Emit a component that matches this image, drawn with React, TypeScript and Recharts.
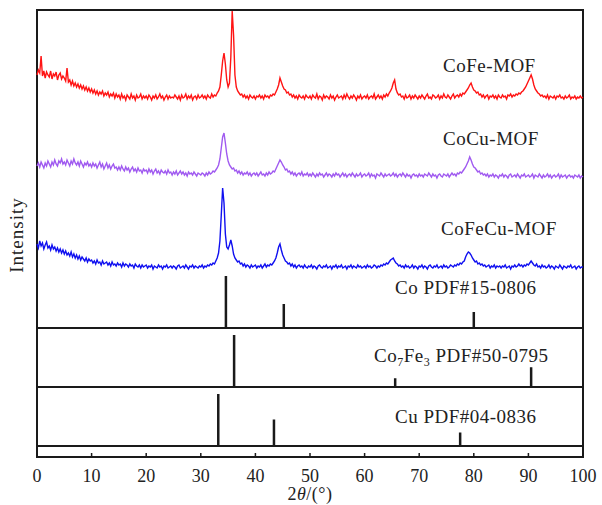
import { ComposedChart, Line, XAxis, YAxis, ReferenceLine, ReferenceArea } from "recharts";

// 2θ sampling grid, 0.25° steps
const twoTheta = Array.from({ length: 401 }, (_, i) => i * 0.25);

// intensity above each pattern's own baseline (arbitrary units)
const cofeMof = [
  22, 27, 24, 41, 21, 26, 19, 25, 22, 20, 26, 18, 23, 21, 25, 17, 22, 24, 18, 21,
  19, 16, 29, 15, 17, 12, 16, 11, 14, 10, 13, 9, 12, 8, 11, 7, 10, 6, 9, 5,
  8, 4, 7, 3, 6, 2, 5, 3, 6, 1, 4, 2, 5, 0, 3, 1, 4, -1, 3, 0,
  2, -2, 3, -1, 1, -3, 2, 0, -2, 3, -1, 1, -3, 2, -1, 0, 3, -2, 1, -1,
  1, -2, 2, 0, -3, 1, -1, 2, -2, 0, 3, -1, 1, -3, 0, 2, -2, 1, -1, 0,
  -1, 2, 0, -2, 1, -3, 2, -1, 0, 3, -2, 1, -1, 2, -3, 0, 1, -2, 2, -1,
  0, 2, -1, 1, -2, 2, 0, -1, 3, 0, 2, 1, 4, 6, 10, 22, 36, 44, 33, 17,
  10, 14, 40, 86, 62, 22, 10, 6, 4, 2, 3, 0, 2, -1, 1, -2, 2, 0, -1, 1,
  -2, 1, 0, 2, -1, 1, -2, 2, 0, 1, -1, 2, 1, 3, 2, 5, 8, 12, 19, 15,
  11, 8, 7, 4, 5, 2, 3, 0, 2, -1, 1, -2, 2, 0, -1, 1, -2, 2, 0, -1,
  1, -2, 2, 0, -1, 3, -2, 1, 0, -3, 2, -1, 1, 0, -2, 2, -1, 1, -3, 0,
  2, -1, 0, 1, -2, 2, -1, 3, 0, -2, 1, -1, 2, 0, -3, 1, -1, 2, -2, 0,
  1, -1, 2, -2, 0, 1, -1, 3, -2, 0, 2, -1, 1, -2, 2, 0, 3, 1, 4, 6,
  9, 14, 17, 8, 4, 2, 3, 0, 1, -2, 2, -1, 0, 2, -2, 1, -1, 2, 0, -2,
  1, -1, 2, 0, -2, 1, 3, -1, 0, -2, 2, 1, -1, 0, 2, -2, 1, -1, 3, 0,
  -1, 2, 0, -2, 1, 3, -1, 1, 2, 0, 3, 1, 4, 3, 5, 7, 9, 12, 14, 10,
  7, 6, 4, 5, 2, 3, 0, 2, -1, 1, 2, -2, 1, 0, 2, -1, 1, -2, 2, 0,
  -1, 2, 0, 1, -2, 2, 1, 3, 0, 2, 1, 3, 2, 4, 3, 5, 6, 8, 10, 13,
  16, 19, 22, 18, 12, 8, 6, 4, 3, 1, 2, 0, 1, -1, 2, -2, 1, 0, -1, 1,
  -2, 1, 0, 2, -1, 0, -2, 1, -1, 0, 2, -2, 0, -1, 1, -2, 0, -1, 1, -1,
  0,
];

const cocuMof = [
  10, 13, 9, 14, 11, 8, 13, 10, 15, 12, 9, 14, 11, 16, 12, 10, 15, 13, 17, 12,
  14, 11, 16, 13, 10, 15, 12, 17, 13, 11, 14, 10, 15, 12, 9, 13, 11, 14, 10, 12,
  9, 13, 10, 12, 8, 11, 14, 9, 12, 7, 10, 13, 8, 11, 7, 10, 12, 8, 9, 6,
  9, 6, 10, 7, 5, 9, 6, 8, 4, 7, 9, 5, 7, 4, 8, 5, 6, 3, 7, 5,
  6, 3, 7, 4, 6, 2, 5, 7, 3, 5, 2, 6, 4, 3, 5, 2, 6, 3, 4, 1,
  4, 2, 5, 1, 3, 5, 2, 4, 1, 3, 0, 4, 2, 3, 1, 4, 2, 0, 3, 2,
  1, 3, 2, 0, 3, 1, 4, 2, 3, 5, 4, 6, 8, 11, 17, 28, 39, 43, 33, 22,
  15, 11, 9, 7, 8, 5, 6, 3, 5, 2, 4, 1, 3, 2, 4, 1, 3, 0, 2, 3,
  1, 3, 0, 2, 4, 1, 2, 0, 3, 1, 4, 2, 3, 5, 4, 7, 10, 13, 16, 14,
  11, 9, 6, 7, 4, 5, 2, 4, 1, 3, 0, 2, 3, 1, 4, 0, 2, 1, 3, 0,
  2, 0, 3, 1, -1, 2, 0, 3, 1, 2, -1, 1, 3, 0, 2, 1, -1, 2, 0, 3,
  1, 2, -1, 1, 3, 0, 2, -1, 1, 2, 0, 3, 1, -1, 2, 0, 1, 3, -1, 1,
  2, 0, 1, 3, -1, 2, 0, 1, -2, 2, 1, 0, 3, 1, -1, 2, 0, 1, 2, 0,
  1, 3, 0, 2, -1, 1, 2, 0, 3, 1, -1, 2, 0, 1, -2, 1, 2, 0, 1, -1,
  2, 0, 1, -1, 2, 1, 0, 3, 1, -1, 2, 0, 1, -2, 1, 2, 0, -1, 2, 1,
  0, 2, -1, 1, 3, 1, 2, 0, 3, 2, 4, 3, 5, 7, 9, 12, 15, 19, 16, 12,
  9, 8, 6, 4, 5, 2, 3, 1, 2, 0, 2, -1, 1, 0, 2, -1, 1, 0, -2, 1,
  0, 2, -1, 1, 0, -2, 1, 2, -1, 0, 1, -1, 2, 0, -2, 1, 0, 2, -1, 0,
  1, -1, 0, 2, -2, 1, 0, -1, 2, 0, -2, 1, -1, 0, 2, -1, 1, -2, 0, 1,
  -1, 0, 2, -2, 1, -1, 0, 1, -2, 0, 1, -1, 0, -2, 1, 0, -1, 1, -2, 0,
  -1,
];

const cofecuMof = [
  23, 19, 26, 21, 24, 18, 22, 25, 19, 21, 17, 22, 18, 20, 16, 19, 15, 18, 14, 17,
  13, 16, 12, 14, 11, 15, 10, 13, 9, 12, 8, 11, 7, 10, 8, 6, 9, 5, 8, 6,
  7, 4, 6, 3, 7, 4, 5, 2, 6, 3, 4, 5, 2, 4, 1, 5, 2, 3, 1, 4,
  2, 3, 0, 4, 1, 3, 2, 0, 3, 1, 2, -1, 3, 1, 0, 2, -1, 2, 0, 1,
  2, -1, 1, 0, 2, -2, 1, 0, -1, 2, 0, 1, -2, 1, 0, 2, -1, 0, 1, -1,
  1, 0, -2, 1, 2, -1, 0, 1, -1, 2, 0, -2, 1, 0, 2, -1, 1, 0, -1, 1,
  0, 2, -1, 1, 0, 2, 1, 3, 2, 4, 3, 6, 9, 14, 26, 52, 79, 64, 33, 20,
  18, 22, 27, 21, 13, 9, 7, 5, 6, 3, 4, 1, 3, 0, 2, 1, -1, 2, 0, 1,
  2, -1, 1, 0, 2, -1, 1, 3, 0, 2, 1, 3, 2, 4, 6, 9, 14, 20, 23, 17,
  12, 9, 6, 5, 3, 4, 1, 3, 0, 2, -1, 1, 2, 0, 1, -1, 2, 0, -1, 1,
  0, 2, -1, 1, 0, -2, 1, 2, 0, -1, 1, 0, 2, -1, 0, 1, -2, 1, 0, 2,
  -1, 1, 0, 2, -1, 0, 1, -2, 1, 0, 2, -1, 1, 0, -1, 2, 0, 1, -1, 0,
  1, -1, 2, 0, 1, -1, 0, 2, 1, -1, 1, 0, 2, 1, 3, 2, 4, 3, 5, 7,
  8, 9, 6, 4, 3, 1, 2, 0, 1, -1, 2, 0, 1, -1, 0, 2, -1, 1, 0, -2,
  1, 0, 2, -1, 1, 0, -2, 1, 2, 0, -1, 1, 0, 2, -1, 0, 1, -1, 2, 0,
  1, -1, 0, 2, 1, 0, 2, 1, 3, 2, 4, 3, 5, 6, 10, 13, 15, 14, 12, 9,
  7, 5, 6, 3, 4, 2, 3, 1, 2, 0, 1, 2, -1, 1, 0, 2, -1, 1, 0, 1,
  -1, 1, 0, 2, -1, 0, 1, -2, 1, 0, 2, 0, 1, 3, 1, 2, 0, 2, 1, 3,
  2, 4, 6, 4, 2, 1, 3, 0, 1, -1, 2, 0, 1, -1, 0, 2, -1, 1, 0, -2,
  1, 0, -1, 2, 0, -2, 1, 0, -1, 1, 0, 2, -1, 0, 1, -2, 0, 1, -1, 0,
  0,
];

// reference cards: positions (2θ) and relative intensities
const coPos = [34.6, 45.2, 80.0];
const coRel = [100, 46, 31];
const co7fe3Pos = [36.1, 65.6, 90.5];
const co7fe3Rel = [100, 17, 38];
const cuPos = [33.2, 43.4, 77.5];
const cuRel = [100, 51, 26];

const xTicks = [0, 10, 20, 30, 40, 50, 60, 70, 80, 90, 100];

// vertical stacking offsets
const RED_OFF = 360;
const PURPLE_OFF = 281;
const BLUE_OFF = 190;
const CO_BASE = 129;
const CO7FE3_BASE = 70;
const CU_BASE = 11;
const STICK_SCALE = 0.52;
const TOP = 447;

const curves = twoTheta.map((x, i) => ({
  x,
  red: cofeMof[i] + RED_OFF,
  purple: cocuMof[i] + PURPLE_OFF,
  blue: cofecuMof[i] + BLUE_OFF,
}));

function sticks(pos: number[], rel: number[], base: number) {
  const pts: { x: number; y: number | null }[] = [];
  pos.forEach((p, i) => {
    pts.push({ x: p, y: base });
    pts.push({ x: p, y: base + rel[i] * STICK_SCALE });
    pts.push({ x: p, y: null });
  });
  return pts;
}

const serif = "'Liberation Serif', 'Times New Roman', serif";
const ink = "#1a1a1a";
const txt = { fontFamily: serif, fontSize: 19, fill: "#222", letterSpacing: 0.5 };

export default function App() {
  return (
    <div style={{ position: "fixed", left: 0, top: 0, width: 602, height: 505, background: "#fff" }}>
      <ComposedChart
        width={602}
        height={505}
        data={curves}
        margin={{ top: 10, right: 19, bottom: 18, left: 37 }}
      >
        <XAxis
          dataKey="x"
          type="number"
          domain={[0, 100]}
          ticks={xTicks}
          interval={0}
          axisLine={false}
          tickLine={{ stroke: ink, strokeWidth: 1.5 }}
          tickSize={-4}
          tickMargin={16}
          height={30}
          tick={{ fill: "#222", fontSize: 18, style: { fontFamily: serif } }}
        />
        <YAxis type="number" domain={[0, TOP]} hide allowDataOverflow />
        <Line dataKey="red" stroke="#ff1414" strokeWidth={1.4} dot={false} isAnimationActive={false} />
        <Line dataKey="purple" stroke="#a05af0" strokeWidth={1.4} dot={false} isAnimationActive={false} />
        <Line dataKey="blue" stroke="#1010f0" strokeWidth={1.4} dot={false} isAnimationActive={false} />
        <Line data={sticks(coPos, coRel, CO_BASE)} dataKey="y" stroke={ink} strokeWidth={2.5} dot={false} isAnimationActive={false} />
        <Line data={sticks(co7fe3Pos, co7fe3Rel, CO7FE3_BASE)} dataKey="y" stroke={ink} strokeWidth={2.5} dot={false} isAnimationActive={false} />
        <Line data={sticks(cuPos, cuRel, CU_BASE)} dataKey="y" stroke={ink} strokeWidth={2.5} dot={false} isAnimationActive={false} />
        <ReferenceLine y={CO_BASE} stroke={ink} strokeWidth={2} />
        <ReferenceLine y={CO7FE3_BASE} stroke={ink} strokeWidth={2} />
        <ReferenceLine y={CU_BASE} stroke={ink} strokeWidth={2} />
        <ReferenceArea x1={0} x2={100} y1={0} y2={TOP} fill="none" fillOpacity={0} stroke={ink} strokeWidth={2} />
        <text x={443} y={72} style={txt}>CoFe-MOF</text>
        <text x={443} y={145} style={txt}>CoCu-MOF</text>
        <text x={441} y={235} style={txt}>CoFeCu-MOF</text>
        <text x={395} y={294} style={txt}>Co PDF#15-0806</text>
        <text x={374} y={362} style={txt}>
          Co<tspan fontSize={12} dy={4}>7</tspan>
          <tspan dy={-4}>Fe</tspan>
          <tspan fontSize={12} dy={4}>3</tspan>
          <tspan dy={-4}> PDF#50-0795</tspan>
        </text>
        <text x={395} y={423} style={txt}>Cu PDF#04-0836</text>
        <text
          x={17}
          y={235}
          dy={6}
          textAnchor="middle"
          transform="rotate(-90 17 235)"
          style={{ ...txt, letterSpacing: 1 }}
        >
          Intensity
        </text>
        <text x={310} y={500} textAnchor="middle" style={{ ...txt, fontSize: 18 }}>
          2<tspan fontStyle="italic">θ</tspan>/(°)
        </text>
      </ComposedChart>
    </div>
  );
}
